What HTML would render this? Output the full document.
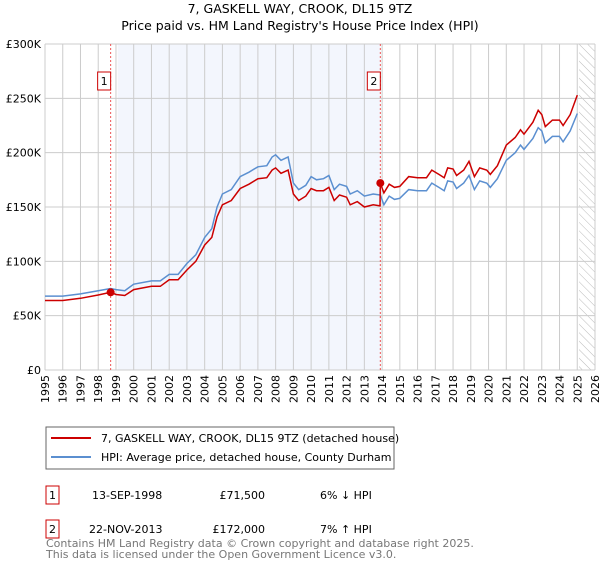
<!DOCTYPE html>
<html><head><meta charset="utf-8"><style>
body{margin:0;background:#fff;font-family:"Liberation Sans","DejaVu Sans",sans-serif;}
svg text{font-family:"DejaVu Sans","Liberation Sans",sans-serif;}
</style></head><body>
<svg id="chart" width="600" height="560" viewBox="0 0 600 560" xmlns="http://www.w3.org/2000/svg">
<text x="300" y="13" text-anchor="middle" font-size="12.5">7, GASKELL WAY, CROOK, DL15 9TZ</text>
<text x="300" y="30" text-anchor="middle" font-size="12.5">Price paid vs. HM Land Registry's House Price Index (HPI)</text>
<g id="plot"></g>
<g>
<rect x="46" y="427" width="348" height="42" fill="#fff" stroke="#666"/>
<line x1="51" y1="438" x2="91" y2="438" stroke="#cc0000" stroke-width="2"/>
<text x="101" y="442" font-size="11">7, GASKELL WAY, CROOK, DL15 9TZ (detached house)</text>
<line x1="51" y1="457" x2="91" y2="457" stroke="#5b8fd0" stroke-width="2"/>
<text x="101" y="461" font-size="11">HPI: Average price, detached house, County Durham</text>
</g>
<g font-size="11">
<rect x="46" y="486" width="13" height="18" fill="none" stroke="#cc0000"/><text x="52.5" y="499" text-anchor="middle">1</text>
<text x="92" y="499">13-SEP-1998</text><text x="265" y="499" text-anchor="end">£71,500</text><text x="320" y="499">6% ↓ HPI</text>
<rect x="46" y="520" width="13" height="18" fill="none" stroke="#cc0000"/><text x="52.5" y="533" text-anchor="middle">2</text>
<text x="89" y="533">22-NOV-2013</text><text x="265" y="533" text-anchor="end">£172,000</text><text x="320" y="533">7% ↑ HPI</text>
</g>
<text x="46" y="547" font-size="11" fill="#777">Contains HM Land Registry data © Crown copyright and database right 2025.</text>
<text x="46" y="558" font-size="11" fill="#777">This data is licensed under the Open Government Licence v3.0.</text>
</svg>
<script>
const dates=[1995,1996,1997,1998,1998.7,1999,1999.5,2000,2001,2001.5,2002,2002.5,2003,2003.5,2004,2004.4,2004.7,2005,2005.5,2006,2006.5,2007,2007.5,2007.8,2008,2008.3,2008.7,2009,2009.3,2009.7,2010,2010.3,2010.7,2011,2011.3,2011.6,2012,2012.2,2012.6,2013,2013.5,2013.88,2013.9,2014.1,2014.4,2014.7,2015,2015.5,2016,2016.5,2016.8,2017.2,2017.5,2017.7,2018,2018.2,2018.6,2018.9,2019.2,2019.5,2019.9,2020.1,2020.5,2021,2021.5,2021.8,2022,2022.5,2022.8,2023,2023.2,2023.6,2024,2024.2,2024.6,2025.0];
const hpiValues=[68,68,70,73,75,74,73,79,82,82,88,88,98,106,122,130,150,162,166,178,182,187,188,196,198,193,196,172,166,170,178,175,176,179,166,171,169,162,165,160,162,161,161,152,160,157,158,166,165,165,172,168,165,174,173,167,172,179,166,174,172,168,176,193,200,207,203,213,223,220,209,215,215,210,220,236];
const priceValues=[64,64,66,69,71.5,69.5,68.6,74,77,77,83,83,92,100,115,122,141,152,156,167,171,176,177,184,186,181,184,162,156,160,167,165,165,168,156,161,159,152,155,150,152,151,172,163,171,168,169,178,177,177,184,180,177,186,185,179,184,192,178,186,184,180,188,207,214,221,217,228,239,235,224,230,230,225,235,253];
const yTicks=[0,50,100,150,200,250,300];
const yTickLabels=["£0","£50K","£100K","£150K","£200K","£250K","£300K"];
const xYears=[1995,1996,1997,1998,1999,2000,2001,2002,2003,2004,2005,2006,2007,2008,2009,2010,2011,2012,2013,2014,2015,2016,2017,2018,2019,2020,2021,2022,2023,2024,2025,2026];
const saleDates=[1998.7,2013.9];
const salePrices=[71.5,172];
const saleLabels=["1","2"];
const X0=45,X1=595,Y0=370,Y1=44;
const xs=v=>X0+(v-1995)/(2026-1995)*(X1-X0);
const ys=v=>Y0-(v/300)*(Y0-Y1);
const NS="http://www.w3.org/2000/svg";
const g=document.getElementById('plot');
function mk(t,a,parent){const e=document.createElementNS(NS,t);for(const k in a)e.setAttribute(k,a[k]);(parent||g).appendChild(e);return e;}
let e;
e=mk('rect',{x:xs(1999.1),y:Y1,width:xs(saleDates[1])-xs(1999.1),height:Y0-Y1,fill:'#f3f6fd'});


const defs=mk('defs',{});
const pat=mk('pattern',{id:'hatch',width:6,height:6,patternUnits:'userSpaceOnUse',patternTransform:'rotate(-45)'},defs);
mk('line',{x1:0,y1:0,x2:0,y2:6,stroke:'#bbb','stroke-width':1},pat);
e=mk('rect',{x:xs(2025.1),y:Y1,width:X1-xs(2025.1),height:Y0-Y1,fill:'url(#hatch)'});


xYears.forEach(y=>{e=mk('line',{x1:xs(y),y1:Y1,x2:xs(y),y2:Y0,stroke:'#ccc'});


const t=mk('text',{x:0,y:0,'font-size':11,'text-anchor':'end',transform:`translate(${xs(y)+4},${Y0+5}) rotate(-90)`});t.textContent=y;

});
yTicks.forEach((v,i)=>{e=mk('line',{x1:X0,y1:ys(v),x2:X1,y2:ys(v),stroke:'#ccc'});


const t=mk('text',{x:X0-4,y:ys(v)+4,'font-size':11,'text-anchor':'end'});t.textContent=yTickLabels[i];

});
saleDates.forEach((d,i)=>{e=mk('line',{x1:xs(d),y1:Y1,x2:xs(d),y2:Y0,stroke:'#e55','stroke-dasharray':'2,2'});


const r=mk('rect',{x:xs(d)-13,y:72,width:13,height:18,fill:'#fff',stroke:'#cc0000'});


const t=mk('text',{x:xs(d)-6.5,y:85,'font-size':11,'text-anchor':'middle'});t.textContent=saleLabels[i];

});
function path(vals){return vals.map((v,i)=>(i?'L':'M')+xs(dates[i]).toFixed(1)+','+ys(v).toFixed(1)).join('');}
e=mk('path',{d:path(hpiValues),fill:'none',stroke:'#5b8fd0','stroke-width':1.5});


e=mk('path',{d:path(priceValues),fill:'none',stroke:'#cc0000','stroke-width':1.5});


saleDates.forEach((d,i)=>{e=mk('circle',{cx:xs(d),cy:ys(salePrices[i]),r:4,fill:'#cc0000'});

});
</script>
</body></html>
